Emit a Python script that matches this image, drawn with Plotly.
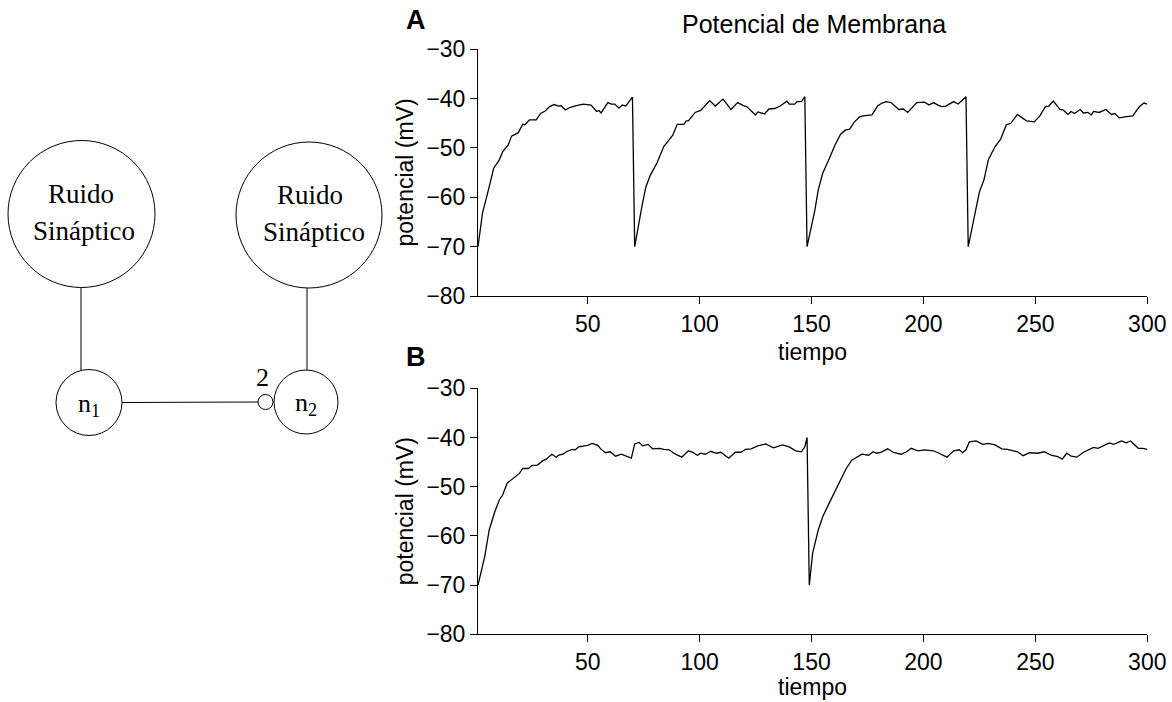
import plotly.graph_objects as go

W, H = 1172, 702

# ---- data: membrane potential traces (tiempo, mV) ----
t_a = [1, 3, 6, 8, 10.5, 12, 14.5, 16, 19, 21, 22, 24, 27, 29, 31, 33, 35, 37, 38, 40,
       42, 44, 48, 50, 51.5, 54, 55, 56, 59, 60.5, 62, 64, 65.5, 67, 70, 71, 72.5, 74.5, 76, 78,
       81, 84, 88, 90, 93, 94, 95, 98, 100.5, 104.5, 107, 110.5, 114, 117, 119.5, 121, 125, 126, 129, 131,
       133.5, 136, 139, 140, 142.5, 143.5, 145.5, 147, 148, 150, 151.5, 153, 155, 158, 160.5, 163, 165, 167, 169, 171.5,
       173, 177, 179.5, 181.5, 183.5, 185.5, 189, 191, 193, 197, 200.5, 202.5, 204.5, 206.5, 208, 210, 213.5, 215.5, 219, 220,
       222.5, 225, 227, 229, 232, 234.5, 237, 239, 242, 246, 249.5, 252, 254.5, 256, 258, 261, 262.5, 264.5, 266, 267.5,
       270, 271.5, 273.5, 275, 276, 278.5, 281.5, 284, 285.5, 287.5, 290, 292, 293.5, 296.5, 298.5, 300]
v_a = [-70, -63.2, -57.9, -54.1, -52.4, -50.8, -49.4, -47.6, -46.9, -45.2, -45.3, -44.3, -44.3, -43.0, -42.5, -41.6, -41.2, -41.5, -41.4, -42.3,
       -41.8, -41.5, -41.1, -41.3, -41.3, -42.6, -42.4, -42.9, -40.8, -41.1, -41.1, -41.9, -41.3, -41.5, -39.7, -70, -66.0, -61.2, -57.9, -55.5,
       -53.0, -49.7, -47.4, -45.2, -45.2, -44.5, -44.5, -42.8, -42.4, -40.4, -41.5, -40.1, -42.2, -40.8, -41.4, -41.6, -43.3, -42.7, -43.1, -42.1,
       -42.0, -41.5, -40.5, -41.1, -41.1, -40.6, -40.6, -39.6, -70, -66.0, -62.6, -58.5, -55.1, -52.1, -49.4, -47.2, -46.4, -46.2, -44.8, -43.7,
       -43.5, -43.3, -41.5, -40.9, -40.6, -40.8, -42.2, -42.1, -42.8, -40.8, -40.7, -41.3, -40.8, -41.3, -41.6, -41.5, -40.6, -41.1, -39.6, -70,
       -64.6, -58.9, -56.5, -52.4, -49.7, -48.2, -45.3, -45.0, -43.2, -44.5, -44.7, -43.5, -41.6, -41.5, -40.5, -42.2, -42.3, -43.2, -42.6, -43.0,
       -42.2, -42.9, -42.8, -43.3, -42.6, -42.8, -42.2, -43.2, -43.0, -43.9, -43.7, -43.5, -43.5, -41.6, -40.9, -41.1]

t_b = [1, 4, 6, 8.5, 10.5, 12, 14, 17, 19.5, 21, 23.5, 25, 27.5, 30, 31.5, 34, 36, 37, 39, 40.5,
       43, 44.5, 46, 48.5, 50, 52, 54.5, 56, 58, 60, 62.5, 65, 67, 69.5, 71, 73, 74.5, 77, 79, 82,
       84, 86.5, 88.5, 92, 95, 97, 99, 100.5, 102.5, 105, 107.5, 109.5, 113, 116, 118.5, 120.5, 123, 126, 129.5, 133,
       137, 140, 143, 145.5, 147, 148, 149, 150.5, 153, 155, 157.5, 160.5, 162.5, 165.5, 168, 170, 172.5, 175.5, 177.5, 179,
       181, 184, 186.5, 190, 192.5, 194.5, 197.5, 200.5, 203, 204.5, 206.5, 208, 210.5, 213.5, 216, 217.5, 219, 220.5, 223.5, 226.5,
       229, 232, 235, 237.5, 240, 242, 244.5, 247.5, 251, 254, 257, 260, 262, 264, 266, 268.5, 271.5, 276, 278, 280,
       283, 285, 288.5, 290.5, 292.5, 296, 298, 300]
v_b = [-70, -64.2, -58.8, -55.1, -52.7, -51.7, -49.3, -48.2, -47.3, -46.3, -46.3, -45.7, -45.6, -44.7, -44.4, -43.4, -44.0, -43.6, -43.4, -42.9,
       -42.4, -42.5, -41.9, -41.7, -41.6, -41.2, -41.6, -42.4, -43.1, -42.9, -43.8, -43.4, -43.8, -44.2, -41.3, -41.0, -41.7, -41.4, -42.3, -42.2,
       -42.4, -42.5, -43.2, -44.0, -42.7, -43.0, -43.6, -43.2, -43.4, -42.8, -43.2, -43.0, -44.2, -43.0, -43.0, -42.4, -42.3, -41.7, -41.3, -42.1,
       -41.5, -41.9, -42.7, -42.9, -41.9, -40.0, -70.0, -63.5, -58.8, -56.1, -53.7, -51.0, -49.0, -46.3, -44.6, -44.0, -43.4, -43.6, -42.9, -43.2,
       -43.0, -42.3, -43.0, -43.4, -42.9, -42.2, -42.7, -42.5, -42.7, -42.7, -43.1, -43.4, -44.0, -42.7, -42.5, -43.1, -42.5, -40.9, -40.7, -41.4,
       -41.2, -41.5, -42.3, -42.4, -42.7, -42.9, -43.7, -43.1, -43.2, -42.9, -43.6, -43.9, -44.4, -43.2, -43.8, -44.0, -43.0, -42.0, -42.2, -41.7,
       -41.1, -41.4, -40.7, -41.1, -40.7, -42.2, -42.2, -42.4]

x_ticks = [50, 100, 150, 200, 250, 300]
y_ticks = [-30, -40, -50, -60, -70, -80]

# ---- diagram (pixel layout of the schematic) ----
big_nodes = [(81.5, 214, 73.5), (309, 215, 73)]
small_nodes = [(89, 402.5, 33), (306, 402, 32)]
node_labels = ["n<sub>1</sub>", "n<sub>2</sub>"]
synapse = (265.5, 402, 7.5)
noise_label = ["Ruido", "Sináptico"]


def px(x):
    return x / W


def py(y):
    return 1 - y / H


fig = go.Figure()
line_style = dict(color="black", width=1.3)
fig.add_trace(go.Scatter(x=t_a, y=v_a, mode="lines", line=line_style, xaxis="x", yaxis="y",
                         showlegend=False, hoverinfo="skip"))
fig.add_trace(go.Scatter(x=t_b, y=v_b, mode="lines", line=line_style, xaxis="x2", yaxis="y2",
                         showlegend=False, hoverinfo="skip"))

tick_font = dict(family="Liberation Sans, Arial, sans-serif", size=23, color="black")
xdom = [px(478), px(1147.3)]
ax_common = dict(showgrid=False, zeroline=False, showline=True, linecolor="black", linewidth=1,
                 ticks="outside", ticklen=7, tickwidth=1, tickcolor="black", tickfont=tick_font,
                 automargin=False, fixedrange=True)
fig.update_layout(
    xaxis=dict(domain=xdom, range=[1, 300], tickvals=x_ticks, anchor="y", **ax_common),
    yaxis=dict(domain=[py(296), py(49.3)], range=[-80, -30], tickvals=y_ticks, anchor="x", **ax_common),
    xaxis2=dict(domain=xdom, range=[1, 300], tickvals=x_ticks, anchor="y2", **ax_common),
    yaxis2=dict(domain=[py(634.3), py(388.3)], range=[-80, -30], tickvals=y_ticks, anchor="x2", **ax_common),
    width=W, height=H, margin=dict(l=0, r=0, t=0, b=0),
    paper_bgcolor="white", plot_bgcolor="white",
)

shapes = []
for cx, cy, r in big_nodes + small_nodes + [synapse]:
    shapes.append(dict(type="circle", xref="paper", yref="paper",
                       x0=px(cx - r), x1=px(cx + r), y0=py(cy + r), y1=py(cy - r),
                       line=dict(color="black", width=1), fillcolor="white"))
# connections
(b1x, b1y, b1r), (b2x, b2y, b2r) = big_nodes
(n1x, n1y, n1r), (n2x, n2y, n2r) = small_nodes
sx, sy, sr = synapse
segs = [((81, b1y + b1r), (81, n1y - n1r + 1)),
        ((307, b2y + b2r), (307, n2y - n2r)),
        ((n1x + n1r, n1y), (sx - sr, sy))]
for (xa, ya), (xb, yb) in segs:
    shapes.append(dict(type="line", xref="paper", yref="paper",
                       x0=px(xa), y0=py(ya), x1=px(xb), y1=py(yb),
                       line=dict(color="black", width=1)))
fig.update_layout(shapes=shapes)

serif = dict(family="Liberation Serif, Times New Roman, serif", size=27, color="black")
sans = dict(family="Liberation Sans, Arial, sans-serif", size=23, color="black")
ann = []
for (cx, cy, r), dx in zip(big_nodes, [0, 2]):
    ann.append(dict(text=noise_label[0], x=px(cx + dx - 0.5), y=py(cy - 20), showarrow=False,
                    xref="paper", yref="paper", font=serif, xanchor="center", yanchor="middle"))
    ann.append(dict(text=noise_label[1], x=px(cx + dx + 2.5), y=py(cy + 17), showarrow=False,
                    xref="paper", yref="paper", font=serif, xanchor="center", yanchor="middle"))
for (cx, cy, r), lab in zip(small_nodes, node_labels):
    ann.append(dict(text=lab, x=px(cx), y=py(cy + 2), showarrow=False, xref="paper", yref="paper",
                    font=dict(family=serif["family"], size=26, color="black"),
                    xanchor="center", yanchor="middle"))
ann.append(dict(text="2", x=px(262), y=py(377), showarrow=False, xref="paper", yref="paper",
                font=dict(family=serif["family"], size=26, color="black"),
                xanchor="center", yanchor="middle"))

ann.append(dict(text="Potencial de Membrana", x=px(814), y=py(24), showarrow=False,
                xref="paper", yref="paper", font=dict(family=sans["family"], size=25, color="black"),
                xanchor="center", yanchor="middle"))
ann.append(dict(text="<b>A</b>", x=px(416), y=py(20), showarrow=False, xref="paper", yref="paper",
                font=dict(family=sans["family"], size=27, color="black"), xanchor="center", yanchor="middle"))
ann.append(dict(text="<b>B</b>", x=px(416), y=py(357), showarrow=False, xref="paper", yref="paper",
                font=dict(family=sans["family"], size=27, color="black"), xanchor="center", yanchor="middle"))
for ymid, yt in [(172.6, 352), (511.3, 687)]:
    ann.append(dict(text="potencial (mV)", x=px(405), y=py(ymid), showarrow=False, textangle=-90,
                    xref="paper", yref="paper", font=sans, xanchor="center", yanchor="middle"))
    ann.append(dict(text="tiempo", x=px(812), y=py(yt), showarrow=False, borderpad=0,
                    xref="paper", yref="paper", font=dict(family=sans["family"], size=23, color="black"),
                    xanchor="center", yanchor="middle"))
fig.update_layout(annotations=ann)

fig.write_html("out.html")
